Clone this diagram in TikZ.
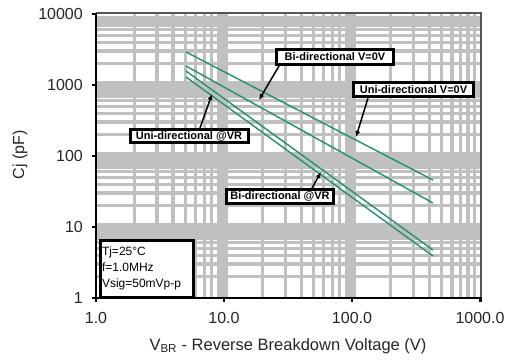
\documentclass[tikz,border=0pt]{standalone}
\usepackage{fontspec}
\setmainfont{Liberation Sans}
\usetikzlibrary{arrows.meta,calc}
\definecolor{gridgray}{RGB}{192,192,192}
\definecolor{curvegreen}{RGB}{35,145,110}
\definecolor{framegray}{RGB}{85,85,85}
\begin{document}
\begin{tikzpicture}[x=1pt,y=-1pt,
  minorgrid/.style={draw=gridgray,line width=3.3pt},
  majorgrid/.style={draw=gridgray,line width=7.5pt},
  curve/.style={draw=curvegreen,line width=1.4pt},
  callout/.style={draw=black,line width=3pt,fill=white,inner sep=0.5pt,
    font=\fontsize{11}{12}\selectfont\bfseries,align=center},
  pointer/.style={draw=black,line width=1.5pt,-{Latex[length=6pt,width=5pt]}},
  ticklab/.style={font=\fontsize{16}{18}\selectfont,inner sep=0pt,text=black!85},
  axistick/.style={draw=black,line width=2.5pt}
]
\useasboundingbox[fill=white] (0,0) rectangle (517,360);
% grid
\begin{scope}
\clip (96,14) rectangle (481,298);
\foreach \nn in {0,1,2}{\foreach \kk in {2,...,9}{%
  \pgfmathsetmacro\xx{96+128.1*(\nn+log10(\kk))}%
  \draw[minorgrid] (\xx,14) -- (\xx,298);}}
\foreach \nn in {0,1,2,3}{\foreach \kk in {2,...,9}{%
  \pgfmathsetmacro\yy{298-71*(\nn+log10(\kk))}%
  \draw[minorgrid] (96,\yy) -- (481,\yy);}}
\foreach \xx in {224.1,352.2}{\draw[majorgrid] (\xx,14) -- (\xx,298);}
\foreach \yy in {227,156,85}{\draw[majorgrid] (96,\yy) -- (481,\yy);}
\end{scope}
% frame and axes
\draw[framegray,line width=2.5pt] (96,13) -- (481,13) -- (481,298);
\draw[black,line width=2pt] (96,13) -- (96,298) -- (482,298);
\foreach \yy in {14,85,156,227,298}{\draw[axistick] (92,\yy) -- (96,\yy);}
\foreach \xx in {96,224.1,352.2,480.3}{\draw[axistick] (\xx,298) -- (\xx,302);}
% tick labels
\node[ticklab,anchor=east] (y4) at (83,14) {10000};
\node[ticklab,anchor=east] (y3) at (83,85) {1000};
\node[ticklab,anchor=east] (y2) at (83,156) {100};
\node[ticklab,anchor=east] (y1) at (83,227) {10};
\node[ticklab,anchor=east] (y0) at (83,298) {1};
\node[ticklab] (x0) at (96,318) {1.0};
\node[ticklab] (x1) at (224,318) {10.0};
\node[ticklab] (x2) at (352,318) {100.0};
\node[ticklab] (x3) at (480,318) {1000.0};
% axis titles
\node[font=\fontsize{16.5}{18}\selectfont,text=black!85] (xlab) at (288,346) {V\textsubscript{BR} - Reverse Breakdown Voltage (V)};
\node[font=\fontsize{16}{18}\selectfont,rotate=90,text=black!85] (ylab) at (20,155) {Cj (pF)};
% curves
\coordinate (uvs) at (186,52);  \coordinate (uve) at (433,180);
\coordinate (bvs) at (186,66);  \coordinate (bve) at (433,203);
\coordinate (urs) at (186,71);  \coordinate (ure) at (433,250);
\coordinate (brs) at (186,77);  \coordinate (bre) at (433,256);
\draw[curve] (uvs) -- (uve);
\draw[curve] (bvs) -- (bve);
\draw[curve] (urs) -- (ure);
\draw[curve] (brs) -- (bre);
% callouts
\node[callout,minimum width=117pt,minimum height=15pt] (biv0) at (335,57) {Bi-directional V=0V};
\node[callout,minimum width=120pt,minimum height=14pt] (univ0) at (413.5,89.5) {Uni-directional V=0V};
\node[callout,minimum width=118pt,minimum height=13pt] (univr) at (189,136) {Uni-directional @VR};
\node[callout,minimum width=107pt,minimum height=14pt] (bivr) at (280,196.5) {Bi-directional @VR};
\coordinate (tbiv0) at (259,100);
\coordinate (tuniv0) at (356,137);
\coordinate (tunivr) at (212,94);
\coordinate (tbivr) at (321,172);
\draw[pointer] ($(biv0.south west)+(4,0)$) -- (tbiv0);
\draw[pointer] ($(univ0.south west)+(16,0)$) -- (tuniv0);
\draw[pointer] ($(univr.north)+(11,0)$) -- (tunivr);
\draw[pointer] ($(bivr.north)+(32,0)$) -- (tbivr);
% conditions box
\node[draw=black,line width=3pt,fill=white,anchor=north west,text width=89pt,
  inner xsep=2pt,minimum height=57pt,align=left,
  font=\fontsize{12}{16}\selectfont] (cond) at (98.5,238.5)
  {Tj=25°C\\f=1.0MHz\\Vsig=50mVp-p};
\end{tikzpicture}
\end{document}
